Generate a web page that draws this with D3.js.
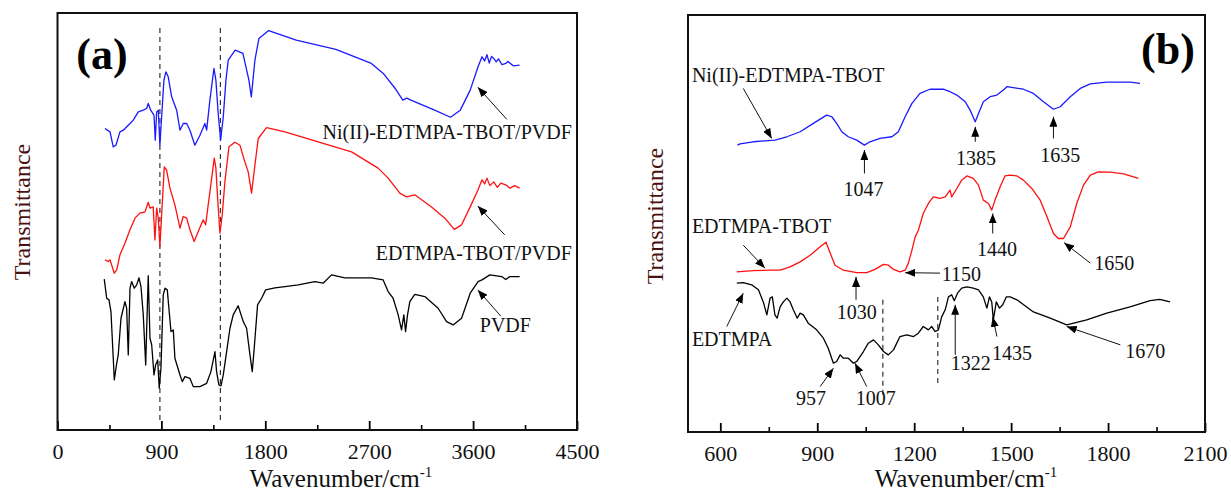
<!DOCTYPE html>
<html>
<head>
<meta charset="utf-8">
<script src="https://cdn.jsdelivr.net/npm/d3@7/dist/d3.min.js"></script>
<style>
  body { margin: 0; background: #fff; }
  svg { display: block; }
</style>
</head>
<body>
<script>
// ---- panel (a): wavenumber (cm-1), transmittance (a.u., offset traces) ----
var niPvdf = [[411,72.3],[455,71.5],[483,67.9],[506,68.3],[541,71.5],[570,71.9],[628,73.5],[656,74.3],[700,76.3],[743,76.7],[772,77.1],[786,78.3],[807,76.7],[836,75.5],[847,69.5],[859,76.3],[873,76.7],[887,68.3],[902,75.1],[922,83.9],[939,85.9],[959,84.7],[989,79.9],[1032,76.7],[1061,71.9],[1089,73.5],[1119,73.5],[1147,71.9],[1190,68.3],[1234,70.7],[1277,73.5],[1292,71.9],[1320,79.1],[1355,86.7],[1372,83.9],[1392,75.9],[1413,69.5],[1436,75.1],[1459,83.9],[1479,88.7],[1539,91.1],[1606,90.3],[1658,83.9],[1679,79.9],[1710,88.7],[1745,93.9],[1829,95.8],[2068,93.5],[2411,91.3],[2719,87.9],[2822,85.5],[2925,81.9],[2991,79.1],[3026,79.6],[3061,79.1],[3267,76.7],[3404,75.0],[3489,76.7],[3575,81.5],[3643,87.1],[3677,89.5],[3700,88.5],[3720,90.0],[3740,88.0],[3760,89.6],[3779,89.1],[3800,88.3],[3820,89.0],[3850,87.6],[3883,87.9],[3900,88.4],[3950,87.3],[4003,87.5]];

var edtPvdf = [[411,40.8],[440,40.4],[455,40.8],[492,37.6],[513,38.4],[541,42.0],[584,44.8],[628,48.0],[671,50.8],[714,52.0],[758,52.3],[786,54.6],[801,53.2],[829,53.5],[844,45.6],[859,53.2],[873,50.8],[887,44.0],[902,51.6],[925,63.1],[945,62.3],[974,58.0],[1017,54.0],[1061,48.4],[1089,51.2],[1119,50.8],[1147,48.0],[1184,45.2],[1219,47.6],[1262,50.4],[1283,49.2],[1320,57.1],[1358,65.2],[1372,62.8],[1387,55.6],[1407,47.2],[1427,51.6],[1450,59.5],[1485,67.9],[1537,69.0],[1580,68.3],[1623,64.3],[1652,61.9],[1681,56.8],[1710,63.5],[1739,69.9],[1811,72.5],[1970,71.5],[2258,69.1],[2547,66.7],[2777,62.8],[2864,60.4],[2965,56.8],[3023,55.9],[3095,56.4],[3240,53.5],[3355,50.8],[3437,48.1],[3500,49.2],[3575,53.5],[3643,57.6],[3677,60.0],[3700,59.0],[3720,60.4],[3745,58.6],[3779,59.5],[3810,58.2],[3840,59.2],[3883,58.8],[3920,58.0],[3960,58.6],[4003,58.0]];

var pvdf = [[405,36.2],[426,31.6],[446,31.2],[463,28.4],[483,17.2],[492,12.0],[513,16.0],[526,18.0],[550,26.8],[584,30.8],[599,29.2],[613,18.0],[628,34.0],[642,35.6],[665,34.0],[686,34.8],[706,36.5],[723,34.4],[743,27.6],[764,15.6],[772,23.6],[786,37.0],[801,22.0],[816,20.4],[836,13.2],[850,15.6],[868,16.8],[881,10.0],[896,14.8],[916,32.4],[931,34.0],[951,33.6],[965,29.2],[983,23.6],[1003,24.0],[1017,17.2],[1061,13.2],[1081,11.6],[1104,12.8],[1147,12.4],[1176,10.4],[1234,10.4],[1292,11.2],[1329,14.0],[1364,18.8],[1378,14.0],[1398,10.8],[1416,10.6],[1436,13.2],[1465,18.8],[1494,24.4],[1522,27.6],[1565,29.8],[1609,26.0],[1638,24.4],[1667,18.0],[1687,14.0],[1704,19.6],[1733,30.0],[1768,31.6],[1803,33.6],[1883,34.1],[1970,34.4],[2085,34.8],[2229,35.6],[2301,35.2],[2374,37.2],[2489,36.5],[2604,36.5],[2720,36.5],[2821,36.0],[2864,33.2],[2907,31.6],[2951,27.6],[2980,24.0],[3000,27.6],[3015,23.6],[3032,27.6],[3052,30.8],[3095,32.5],[3182,32.0],[3297,29.2],[3370,26.0],[3427,25.2],[3500,26.8],[3575,32.8],[3643,35.6],[3677,36.0],[3745,37.2],[3848,36.8],[3883,36.1],[3918,36.8],[4003,36.8]];

var ticksA = [0, 900, 1800, 2700, 3600, 4500];
var minorTicksA = [450, 1350, 2250, 3150, 4050];
var dashedA = [887, 1411];
var labelsA = [['Ni(II)-EDTMPA-TBOT/PVDF', 4455, 69.8], ['EDTMPA-TBOT/PVDF', 4455, 40.8], ['PVDF', 3658, 23.5]];
var arrowsA = [[3892,74.5,3641,82.2], [3874,46.8,3641,53.7], [3840,27.3,3641,33.6]];

// ---- panel (b) ----
var niTbot = [[653,68.8],[661,69.1],[702,69.6],[769,70.0],[806,70.8],[847,72.0],[888,74.0],[929,76.0],[945,75.6],[960,74.0],[976,72.0],[996,70.8],[1022,70.0],[1046,68.8],[1063,69.6],[1094,70.4],[1131,70.8],[1151,72.0],[1172,75.6],[1193,78.8],[1218,81.2],[1249,82.2],[1290,82.2],[1311,81.6],[1332,80.8],[1358,79.2],[1373,77.2],[1389,74.4],[1399,76.4],[1414,79.2],[1435,80.4],[1456,80.8],[1476,82.0],[1487,82.8],[1538,82.2],[1569,81.2],[1600,79.2],[1631,77.4],[1652,78.0],[1683,80.4],[1714,82.4],[1745,83.5],[1796,83.9],[1868,83.9],[1899,83.6]];

var edtTbot = [[651,38.4],[702,38.7],[754,38.8],[785,38.8],[816,39.6],[847,40.8],[878,42.4],[909,44.4],[927,45.5],[940,42.9],[955,40.0],[981,38.8],[1022,38.2],[1053,38.2],[1079,39.0],[1105,40.2],[1120,40.0],[1136,39.0],[1156,38.4],[1172,38.8],[1182,40.5],[1193,43.6],[1203,46.8],[1213,48.4],[1228,52.4],[1244,54.8],[1259,56.4],[1280,56.0],[1296,56.4],[1311,58.0],[1316,56.4],[1332,58.4],[1347,60.4],[1363,61.4],[1383,60.8],[1399,59.2],[1414,55.6],[1430,54.8],[1440,53.2],[1450,55.6],[1466,58.8],[1481,61.4],[1497,61.6],[1518,61.4],[1538,60.4],[1564,58.4],[1590,55.6],[1611,51.6],[1631,47.6],[1646,46.4],[1662,46.4],[1683,49.2],[1703,54.8],[1724,59.2],[1745,61.6],[1770,62.4],[1807,62.3],[1848,61.9],[1894,60.8]];

var edtmpa = [[651,35.7],[671,35.8],[697,35.3],[718,34.1],[733,31.2],[744,28.1],[754,32.1],[761,32.4],[769,28.1],[776,27.3],[785,30.0],[795,31.2],[806,32.1],[816,31.2],[826,29.3],[838,27.3],[847,28.5],[857,28.1],[872,26.1],[898,24.5],[919,22.5],[934,20.1],[950,16.5],[960,16.9],[971,18.5],[981,17.7],[996,17.7],[1012,16.5],[1022,16.9],[1043,19.3],[1058,21.3],[1074,22.1],[1089,20.9],[1105,19.3],[1120,18.5],[1136,19.7],[1156,22.9],[1177,23.3],[1198,22.9],[1213,23.7],[1228,25.3],[1244,24.5],[1254,25.3],[1265,24.1],[1275,24.5],[1285,27.6],[1296,29.3],[1306,32.4],[1316,32.9],[1324,31.5],[1334,33.3],[1347,34.5],[1363,34.8],[1383,34.5],[1399,34.1],[1414,32.4],[1425,29.7],[1433,32.4],[1440,31.2],[1445,26.9],[1454,31.2],[1464,29.7],[1474,30.5],[1485,32.4],[1497,32.4],[1518,31.7],[1569,28.8],[1621,27.3],[1672,25.7],[1734,26.9],[1796,28.5],[1868,30.0],[1930,31.5],[1960,31.8],[1992,31.2]];

var ticksB = [600, 900, 1200, 1500, 1800, 2100];
var minorTicksB = [750, 1050, 1350, 1650, 1950];
var dashedB = [[1103, 31.7, 8.6], [1273, 32.4, 11.0]];
var labelsB = [['Ni(II)-EDTMPA-TBOT', 512, 83.9], ['1047', 1043, 56.6], ['1385', 1391, 64.0], ['1635', 1652, 64.7],
               ['EDTMPA-TBOT', 512, 47.7], ['1440', 1456, 42.2], ['1650', 1819, 38.8], ['1150', 1285, 36.2], ['1030', 1022, 27.1],
               ['EDTMPA', 512, 20.6], ['957', 881, 6.5], ['1007', 1081, 6.5], ['1322', 1375, 14.9], ['1435', 1503, 17.3], ['1670', 1915, 17.7]];
var arrowsB = [[671,82.4,759,70.4],[1046,62.0,1046,67.6],[1389,69.6,1389,73.2],[1631,70.4,1631,75.6],
               [671,44.8,738,39.3],[1443,47.6,1443,52.4],[1745,40.5,1664,45.4],[1280,38.1,1172,38.2],[1020,31.7,1020,37.2],
               [620,25.3,671,33.3],[909,10.9,950,15.3],[1053,10.9,1017,16.5],[1327,18.5,1327,30.5],[1456,22.9,1443,27.6],[1838,20.9,1672,25.3]];

var w = 1231;
var h = 492;
var svg = d3.select('body').append('svg')
            .attr('width', w)
            .attr('height', h)
            .style('font-family', '"Liberation Serif", "Times New Roman", serif');

svg.append('defs').append('marker')
   .attr('id', 'head')
   .attr('viewBox', '0 0 10 8')
   .attr('refX', 10)
   .attr('refY', 4)
   .attr('markerUnits', 'userSpaceOnUse')
   .attr('markerWidth', 10)
   .attr('markerHeight', 8)
   .attr('orient', 'auto')
   .append('path')
   .attr('d', 'M0,0 L10,4 L0,8 Z')
   .attr('fill', '#000');

function panel(p) {
  var x = d3.scaleLinear().domain(p.xDomain).range([p.left, p.right]);
  var y = d3.scaleLinear().domain([0, 100]).range([p.bottom, p.top]);
  var g = svg.append('g');

  // dashed guides
  p.dashed.forEach(function(d){
    g.append('line')
     .attr('x1', x(d[0])).attr('x2', x(d[0]))
     .attr('y1', y(d[1])).attr('y2', y(d[2]))
     .attr('stroke', '#333')
     .attr('stroke-width', 1.2)
     .attr('stroke-dasharray', '5,4');
  });

  var line = d3.line()
               .x(function(d){ return x(d[0]); })
               .y(function(d){ return y(d[1]); });

  p.series.forEach(function(s){
    g.append('path')
     .datum(s.data)
     .attr('d', line)
     .attr('fill', 'none')
     .attr('stroke', s.color)
     .attr('stroke-width', 1.3)
     .attr('stroke-linejoin', 'round');
  });

  // minor and major ticks, pointing inward
  g.append('g')
   .attr('transform', 'translate(0,' + p.bottom + ')')
   .call(d3.axisBottom(x).tickValues(p.minor).tickSize(-5).tickFormat(''))
   .call(function(a){ a.select('.domain').remove(); a.selectAll('line').attr('stroke-width', 1.6); });

  g.append('g')
   .attr('transform', 'translate(0,' + p.bottom + ')')
   .call(d3.axisBottom(x).tickValues(p.ticks).tickSize(-9).tickPadding(13).tickFormat(d3.format('d')))
   .call(function(a){
     a.select('.domain').remove();
     a.selectAll('line').attr('stroke-width', 1.8);
     a.selectAll('text')
      .attr('fill', '#111')
      .style('font-size', '22px')
      .style('font-family', '"Liberation Serif", "Times New Roman", serif');
   });

  g.append('rect')
   .attr('x', p.left).attr('y', p.top)
   .attr('width', p.right - p.left).attr('height', p.bottom - p.top)
   .attr('fill', 'none')
   .attr('stroke', '#111')
   .attr('stroke-width', 2);

  // annotations
  p.arrows.forEach(function(d){
    g.append('line')
     .attr('x1', x(d[0])).attr('y1', y(d[1]))
     .attr('x2', x(d[2])).attr('y2', y(d[3]))
     .attr('stroke', '#111')
     .attr('stroke-width', 1)
     .attr('marker-end', 'url(#head)');
  });

  p.labels.forEach(function(d){
    g.append('text')
     .attr('x', x(d[1]))
     .attr('y', y(d[2]))
     .attr('text-anchor', p.anchor(d[0]))
     .attr('fill', '#111')
     .style('font-size', '20px')
     .text(d[0]);
  });

  g.append('text')
   .attr('x', p.tagX).attr('y', p.tagY)
   .attr('text-anchor', 'middle')
   .style('font-size', '44px')
   .style('font-weight', 'bold')
   .text(p.tag);

  var title = g.append('text')
   .attr('x', p.titleX).attr('y', 487)
   .attr('text-anchor', 'middle')
   .attr('fill', '#111')
   .style('font-size', '25px');
  title.append('tspan').text('Wavenumber/cm');
  title.append('tspan').attr('dy', -10).style('font-size', '15px').text('-1');

  g.append('text')
   .attr('transform', 'translate(' + p.yTitleX + ',' + p.yTitleY + ') rotate(-90)')
   .attr('text-anchor', 'middle')
   .attr('dy', '0.35em')
   .attr('fill', '#4a1010')
   .style('font-size', '24px')
   .text('Transmittance');
}

panel({
  xDomain: [0, 4500], left: 57.5, right: 577, top: 13, bottom: 430,
  ticks: ticksA, minor: minorTicksA,
  dashed: dashedA.map(function(v){ return [v, 96.4, 1.7]; }),
  series: [{data: niPvdf, color: '#1a1aff'}, {data: edtPvdf, color: '#ff1010'}, {data: pvdf, color: '#000'}],
  labels: labelsA, arrows: arrowsA,
  anchor: function(t){ return t === 'PVDF' ? 'start' : 'end'; },
  tag: '(a)', tagX: 102, tagY: 69,
  titleX: 341, yTitleX: 22, yTitleY: 212
});

panel({
  xDomain: [500, 2100], left: 688, right: 1205, top: 15, bottom: 432,
  ticks: ticksB, minor: minorTicksB,
  dashed: dashedB,
  series: [{data: niTbot, color: '#1a1aff'}, {data: edtTbot, color: '#ff1010'}, {data: edtmpa, color: '#000'}],
  labels: labelsB, arrows: arrowsB,
  anchor: function(t){ return (t.indexOf('EDTMPA') >= 0 || t === '1150') ? 'start' : 'middle'; },
  tag: '(b)', tagX: 1168, tagY: 64,
  titleX: 966, yTitleX: 655, yTitleY: 216
});
</script>
</body>
</html>
